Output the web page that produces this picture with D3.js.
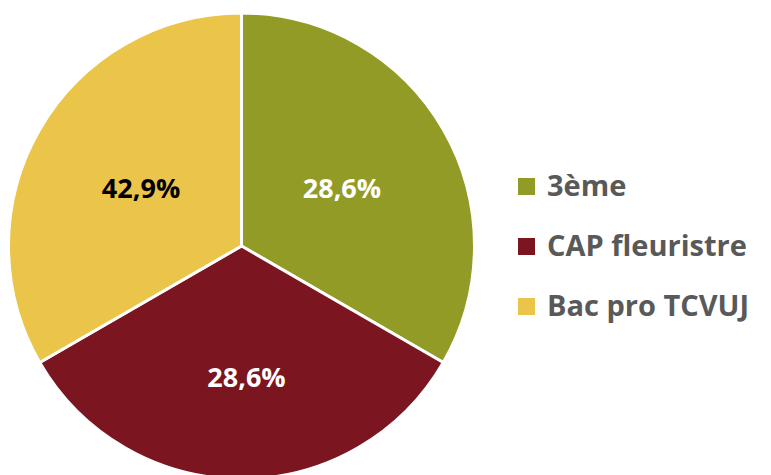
<!DOCTYPE html>
<html>
<head>
<meta charset="utf-8">
<script src="https://cdn.jsdelivr.net/npm/d3@7"></script>
<style>
  body { margin: 0; background: #fff; }
  svg { display: block; }
  text { font-family: "Open Sans", "Noto Sans", sans-serif; font-weight: 700; }
</style>
</head>
<body>
<div id="chart"></div>
<script>
// data
const categories = ["3ème", "CAP fleuristre", "Bac pro TCVUJ"];
const pctLabels = ["28,6%", "28,6%", "42,9%"];
// the slices in the reference are drawn as three equal thirds
const sliceValues = [33.3, 33.3, 33.3];
const colors = ["#939b27", "#7b1520", "#ebc54a"];
const labelColors = ["#ffffff", "#ffffff", "#000000"];

const W = 771, H = 475;
const cx = 241.5, cy = 246, R = 233;

const svg = d3.select("#chart").append("svg")
  .attr("width", W).attr("height", H);

const rows = categories.map((c, i) => ({cat: c, value: sliceValues[i], label: pctLabels[i], color: colors[i], lc: labelColors[i]}));

const pie = d3.pie().value(d => d.value).sort(null);
const arc = d3.arc().innerRadius(0).outerRadius(R);
const arcs = pie(rows);

const g = svg.append("g").attr("transform", `translate(${cx},${cy})`);

g.selectAll("path.slice")
  .data(arcs).enter()
  .append("path")
    .attr("class", "slice")
    .attr("d", arc)
    .attr("fill", d => d.data.color)
    .attr("stroke", "#fff")
    .attr("stroke-width", 3)
    .attr("stroke-linejoin", "round");

// label placement, small nudges to match where the labels sit
const labelR = 116;
const labelNudge = {"CAP fleuristre": [5, 15]};
g.selectAll("text.pct")
  .data(arcs).enter()
  .append("text")
    .attr("class", "pct")
    .attr("transform", d => {
      const a = (d.startAngle + d.endAngle) / 2;
      const n = labelNudge[d.data.cat] || [0, 0];
      return `translate(${Math.sin(a) * labelR + n[0]},${-Math.cos(a) * labelR + n[1]})`;
    })
    .attr("text-anchor", "middle")
    .attr("dy", "0.36em")
    .style("font-size", "27px")
    .attr("fill", d => d.data.lc)
    .text(d => d.data.label);

// legend
const legend = svg.append("g").attr("transform", "translate(518,186)");
const item = legend.selectAll("g")
  .data(rows).enter()
  .append("g")
    .attr("transform", (d, i) => `translate(0,${i * 60})`);

item.append("rect")
  .attr("x", 0).attr("y", -8)
  .attr("width", 17).attr("height", 17)
  .attr("fill", d => d.color);

item.append("text")
  .attr("x", 29)
  .attr("dy", "0.36em")
  .style("font-size", "29px")
  .attr("fill", "#595959")
  .text(d => d.cat);
</script>
</body>
</html>
